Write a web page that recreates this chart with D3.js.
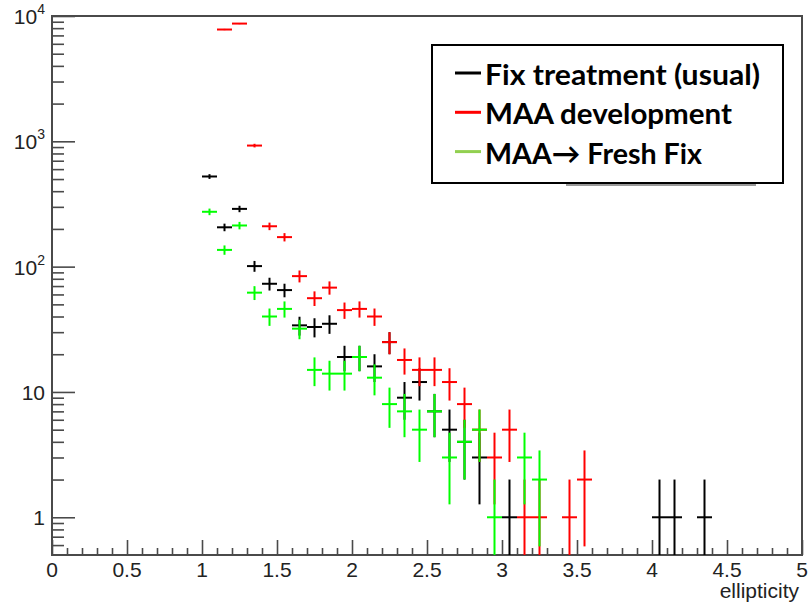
<!DOCTYPE html>
<html>
<head>
<meta charset="utf-8">
<script src="https://cdn.jsdelivr.net/npm/d3@7"></script>
<style>
  body { margin: 0; background: #fff; }
  svg { display: block; }
  .ticklabel { font-family: "Liberation Sans", Arial, sans-serif; font-size: 21px; fill: #222; }
  .legendtext { font-family: Lato, "Open Sans", sans-serif; font-weight: bold; font-size: 29px; fill: #000; }
</style>
</head>
<body>
<div id="chart"></div>
<script>
// bin centres (width 0.1) and counts for each histogram
var blackX = [1.05,1.15,1.25,1.35,1.45,1.55,1.65,1.75,1.85,1.95,2.05,2.15,2.25,2.35,2.45,2.55,2.65,2.75,2.85,3.05,4.05,4.15,4.35];
var blackN = [524,206,289,101,73,65,34,33,35,19,19,16,25,9,12,7,5,4,3,1,1,1,1];

var redX = [1.15,1.25,1.35,1.45,1.55,1.65,1.75,1.85,1.95,2.05,2.15,2.25,2.35,2.45,2.55,2.65,2.75,2.85,2.95,3.05,3.15,3.25,3.45,3.55];
var redN = [7800,8700,925,210,172,84,56,68,45,46,40,25,18,15,15,12,8,5,3,5,1,1,1,2];

var greenX = [1.05,1.15,1.25,1.35,1.45,1.55,1.65,1.75,1.85,1.95,2.05,2.15,2.25,2.35,2.45,2.55,2.65,2.75,2.85,2.95,3.15,3.25];
var greenN = [274,136,213,62,40,46,32,15,14,14,19,13,8,7,5,7,3,4,5,1,3,2];

var binWidth = 0.1;

var xTicks = [0,0.5,1,1.5,2,2.5,3,3.5,4,4.5,5];
var xTickLabels = ["0","0.5","1","1.5","2","2.5","3","3.5","4","4.5","5"];
var yTicks = [1,10,100,1000,10000];
var yTickBase = ["1","10","10","10","10"];
var yTickExp = ["","","2","3","4"];

var legendLabels = ["Fix treatment (usual)", "MAA development", "MAA\u2192 Fresh Fix"];
var legendColors = ["#000000", "#ff0000", "#92d050"];
var legendWidths = [275, 247, 217];

var W = 808, H = 603;
var plotL = 52, plotR = 802, plotT = 16, plotB = 555;
var axisColor = "#4a4a4a";

var svg = d3.select("#chart").append("svg")
    .attr("width", W)
    .attr("height", H);

var xScale = d3.scaleLinear().domain([0, 5]).range([plotL, plotR]);
var yScale = d3.scaleLog().domain([0.5, 10000]).range([plotB, plotT]);

// frame
svg.append("rect")
    .attr("x", plotL).attr("y", plotT)
    .attr("width", plotR - plotL).attr("height", plotB - plotT)
    .attr("fill", "none")
    .attr("stroke", axisColor)
    .attr("stroke-width", 2);

// y axis: major and minor ticks
var yMinor = [];
[0.1, 1, 10, 100, 1000].forEach(function(dec) {
    for (var m = 2; m <= 9; m++) {
        var v = dec * m;
        if (v > 0.5 && v < 10000) yMinor.push(v);
    }
});

svg.append("g")
    .attr("transform", "translate(" + plotL + ",0)")
    .call(d3.axisRight(yScale).tickValues(yMinor).tickSize(12).tickFormat(""))
    .call(function(g) { g.select(".domain").remove(); })
    .selectAll("line").attr("stroke", axisColor).attr("stroke-width", 1.6);

svg.append("g")
    .attr("transform", "translate(" + plotL + ",0)")
    .call(d3.axisRight(yScale).tickValues(yTicks).tickSize(23).tickFormat(""))
    .call(function(g) { g.select(".domain").remove(); })
    .selectAll("line").attr("stroke", axisColor).attr("stroke-width", 1.6);

var yLab = svg.append("g").selectAll("text")
    .data(yTicks)
    .enter().append("text")
    .attr("class", "ticklabel")
    .attr("x", 45)
    .attr("y", function(d) { return yScale(d) + 8; })
    .attr("text-anchor", "end");
yLab.append("tspan").text(function(d, i) { return yTickBase[i]; });
yLab.append("tspan")
    .attr("dy", -10)
    .style("font-size", "14px")
    .text(function(d, i) { return yTickExp[i]; });

// x axis
var xMinor = [];
for (var k = 1; k < 50; k++) { if (k % 5 !== 0) xMinor.push(k / 10); }

svg.append("g")
    .attr("transform", "translate(0," + plotB + ")")
    .call(d3.axisTop(xScale).tickValues(xMinor).tickSize(7).tickFormat(""))
    .call(function(g) { g.select(".domain").remove(); })
    .selectAll("line").attr("stroke", axisColor).attr("stroke-width", 1.6);

svg.append("g")
    .attr("transform", "translate(0," + plotB + ")")
    .call(d3.axisTop(xScale).tickValues(xTicks).tickSize(15).tickFormat(""))
    .call(function(g) { g.select(".domain").remove(); })
    .selectAll("line").attr("stroke", axisColor).attr("stroke-width", 1.6);

svg.append("g").selectAll("text")
    .data(xTicks)
    .enter().append("text")
    .attr("class", "ticklabel")
    .attr("x", function(d) { return xScale(d); })
    .attr("y", 577)
    .attr("text-anchor", "middle")
    .text(function(d, i) { return xTickLabels[i]; });

svg.append("text")
    .attr("class", "ticklabel")
    .attr("x", 799)
    .attr("y", 598)
    .attr("text-anchor", "end")
    .style("font-size", "21px")
    .text("ellipticity");

// histograms drawn as error crosses
svg.append("clipPath").attr("id", "plotclip")
  .append("rect")
    .attr("x", plotL).attr("y", plotT)
    .attr("width", plotR - plotL).attr("height", plotB - plotT);

function drawHist(xs, ns, color) {
    var g = svg.append("g").attr("clip-path", "url(#plotclip)");
    var data = xs.map(function(x, i) { return {x: x, n: ns[i]}; });
    g.selectAll(".h").data(data).enter().append("line")
        .attr("x1", function(d) { return xScale(d.x - binWidth / 2); })
        .attr("x2", function(d) { return xScale(d.x + binWidth / 2); })
        .attr("y1", function(d) { return yScale(d.n); })
        .attr("y2", function(d) { return yScale(d.n); })
        .attr("stroke", color).attr("stroke-width", 2);
    g.selectAll(".v").data(data).enter().append("line")
        .attr("x1", function(d) { return xScale(d.x); })
        .attr("x2", function(d) { return xScale(d.x); })
        .attr("y1", function(d) { return yScale(d.n + Math.sqrt(d.n)); })
        .attr("y2", function(d) {
            var lo = d.n - Math.sqrt(d.n);
            return lo > 0.5 ? yScale(lo) : plotB;
        })
        .attr("stroke", color).attr("stroke-width", 2);
}

drawHist(blackX, blackN, "#000000");
drawHist(redX, redN, "#ff0000");
drawHist(greenX, greenN, "#00ff00");

// legend (with the grey edge of the box underneath)
svg.append("rect")
    .attr("x", 567).attr("y", 150)
    .attr("width", 188).attr("height", 35)
    .attr("fill", "#fff")
    .attr("stroke", "#999")
    .attr("stroke-width", 2);

svg.append("rect")
    .attr("x", 432).attr("y", 45)
    .attr("width", 351).attr("height", 138)
    .attr("fill", "#fff")
    .attr("stroke", "#000")
    .attr("stroke-width", 2);

var leg = svg.append("g").selectAll("g")
    .data(legendLabels)
    .enter().append("g")
    .attr("transform", function(d, i) { return "translate(0," + (85 + i * 39.3) + ")"; });

leg.append("line")
    .attr("x1", 455).attr("x2", 481)
    .attr("y1", -12).attr("y2", -12)
    .attr("stroke", function(d, i) { return legendColors[i]; })
    .attr("stroke-width", 3);

leg.append("text")
    .attr("class", "legendtext")
    .attr("x", 485)
    .attr("y", 0)
    .attr("textLength", function(d, i) { return legendWidths[i]; })
    .attr("lengthAdjust", "spacingAndGlyphs")
    .text(function(d) { return d; });
</script>
</body>
</html>
